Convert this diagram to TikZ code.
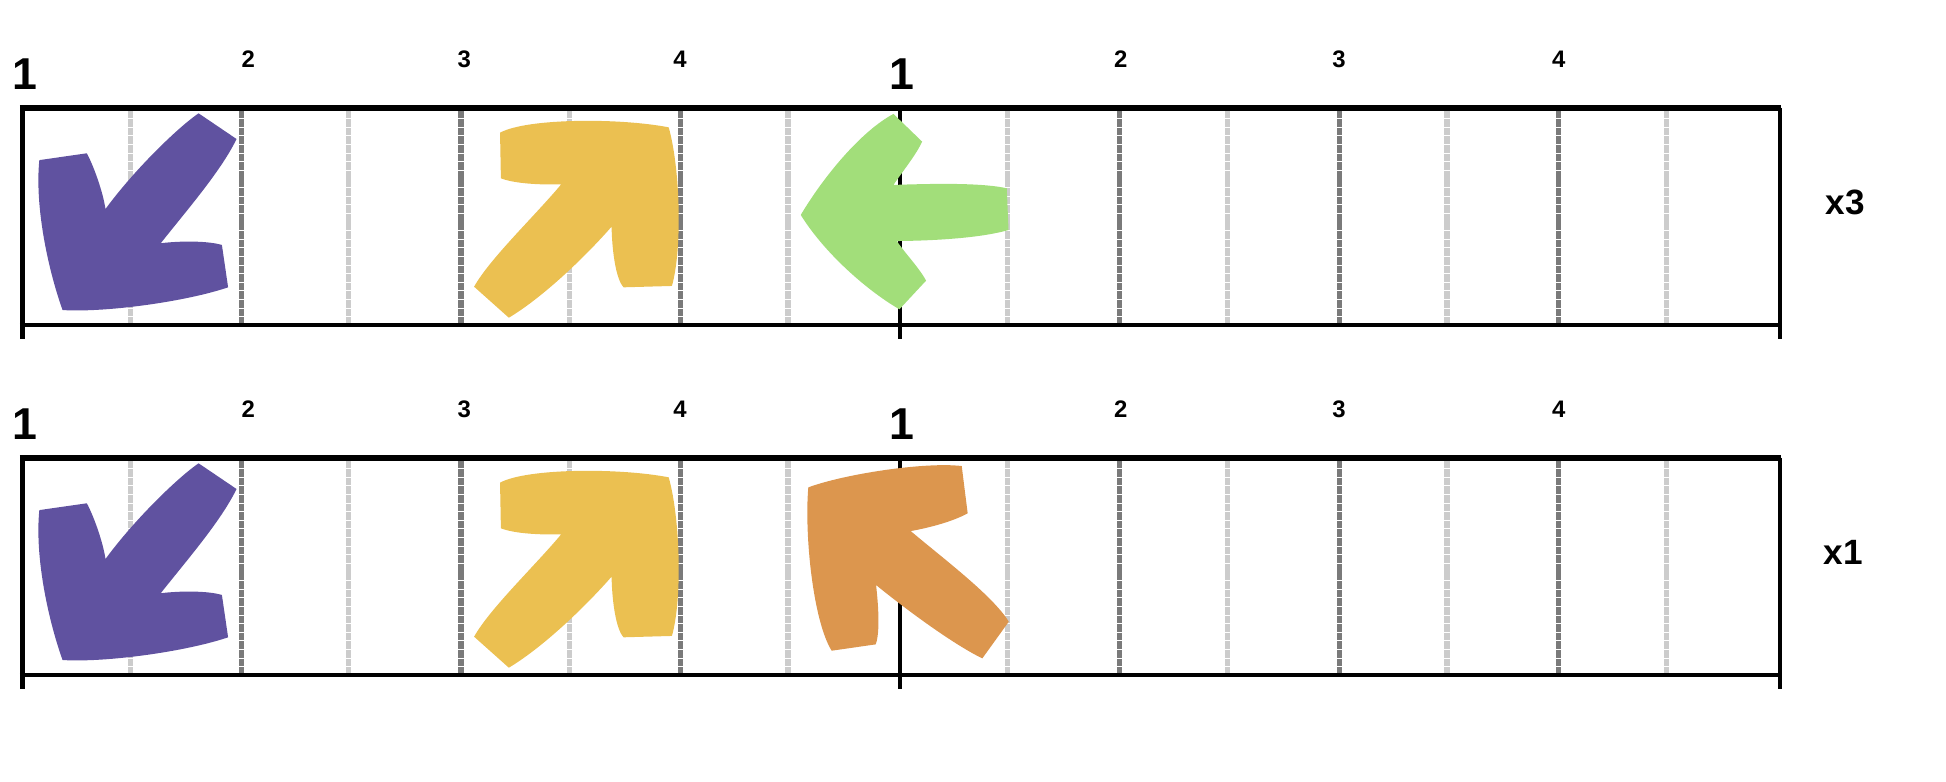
\documentclass[tikz,border=0pt]{standalone}
\usepackage{fontspec}
\setmainfont{Liberation Sans}
\tikzset{
  arrowA/.pic={\fill[purp] (160,91.3) -- (190.6,112) .. controls (178,138) and (150,170) .. (129.5,196)
    .. controls (145,194) and (168,194) .. (178.8,197.4) -- (183.8,231.5)
    .. controls (150,243) and (85,252) .. (50.4,249.8) .. controls (38,215) and (28,165) .. (31.7,129)
    -- (70,123.5) .. controls (76,135) and (83,155) .. (85,168.4)
    .. controls (108,137) and (143,103) .. (160,91.3) -- cycle;},
  arrowB/.pic={\fill[yell] (538.8,102.6) .. controls (500,95) and (425,95) .. (402.9,106.9) -- (403.6,143.7)
    .. controls (415,148) and (435,149) .. (452.2,148.5) .. controls (430,175) and (395,208) .. (382,231)
    -- (410,256) .. controls (440,238) and (475,203) .. (492.8,182.6)
    .. controls (493,200) and (496,225) .. (502.5,231.5) -- (541.4,230.4)
    .. controls (550,200) and (548,135) .. (538.8,102.6) -- cycle;}
}
\begin{document}
\begin{tikzpicture}[x=0.01241cm, y=-0.01241cm, font=\bfseries,
    frameline/.style={draw=black, line width=1.6pt},
    edgeline/.style={draw=black, line width=1.25pt},
    major/.style={draw=black!52, line width=1.5pt, dash pattern=on 2.2pt off 0.25pt},
    minor/.style={draw=black!20, line width=1.5pt, dash pattern=on 2.2pt off 0.25pt},
    purp/.style={fill=purp!100},
    yell/.style={fill=yell!100},
    biglab/.style={font=\bfseries\fontsize{12.7}{14}\selectfont},
    smalllab/.style={font=\bfseries\fontsize{6.8}{8}\selectfont},
    rowlab/.style={font=\bfseries\fontsize{10}{12}\selectfont}]
  \definecolor{purp}{HTML}{6052A0}
  \definecolor{yell}{HTML}{EBC051}
  \definecolor{gren}{HTML}{A2DE7A}
  \definecolor{oran}{HTML}{DC964E}
  \useasboundingbox (0,0) rectangle (1568,630);
  % two identical strips, the second one 282 lower
  \foreach \rowy/\rowname/\rowx in {0/x3/1487, 282/x1/1485} {
    \begin{scope}[shift={(0,\rowy)}]
      \foreach \c in {105,281,459,635,812,989,1166,1343} \draw[minor] (\c,89) -- (\c,260);
      \foreach \c in {194.5,371.5,548.5,902,1079,1256} \draw[major] (\c,89) -- (\c,260);
      \foreach \c in {18,725,1434} \draw[edgeline] (\c,87) -- (\c,273);
      \draw[frameline] (16,87) -- (1435,87);
      \draw[edgeline] (16,262) -- (1435,262);
      \node[biglab] (one\rowname) at (20,60) {1};
      \node[biglab] (two\rowname) at (727,60) {1};
      \foreach \n/\c in {2/200,3/374,4/548} \node[smalllab] (a\n\rowname) at (\c,47.5) {\n};
      \foreach \n/\c in {2/903,3/1079,4/1256} \node[smalllab] (b\n\rowname) at (\c,47.5) {\n};
      \node[rowlab] (lab\rowname) at (\rowx,163) {\rowname};
      \pic at (0,0) {arrowA};
      \pic at (0,0) {arrowB};
    \end{scope}
  }
  \fill[gren] (645.2,173.2) .. controls (665,140) and (695,105) .. (719.9,91.8) -- (743,114.1)
    .. controls (738,125) and (728,137) .. (719.9,149) .. controls (750,148) and (790,147) .. (811.2,151.7)
    -- (812.6,185.3) .. controls (790,192) and (750,194) .. (722.6,194.2)
    .. controls (730,205) and (740,215) .. (746.2,226.1) -- (724.7,249.2)
    .. controls (700,235) and (665,205) .. (645.2,173.2) -- cycle;
  \fill[oran] (651.3,392.7) .. controls (680,382) and (745,372) .. (774.9,375.5) -- (779.7,413.6)
    .. controls (768,420) and (750,425) .. (733.8,427.9) .. controls (760,450) and (800,480) .. (812.8,500.9)
    -- (791.5,530.5) .. controls (770,520) and (735,495) .. (705.9,471.4)
    .. controls (708,490) and (709,510) .. (705.6,519.2) -- (670.1,524.3)
    .. controls (655,500) and (648,430) .. (651.3,392.7) -- cycle;
\end{tikzpicture}
\end{document}
